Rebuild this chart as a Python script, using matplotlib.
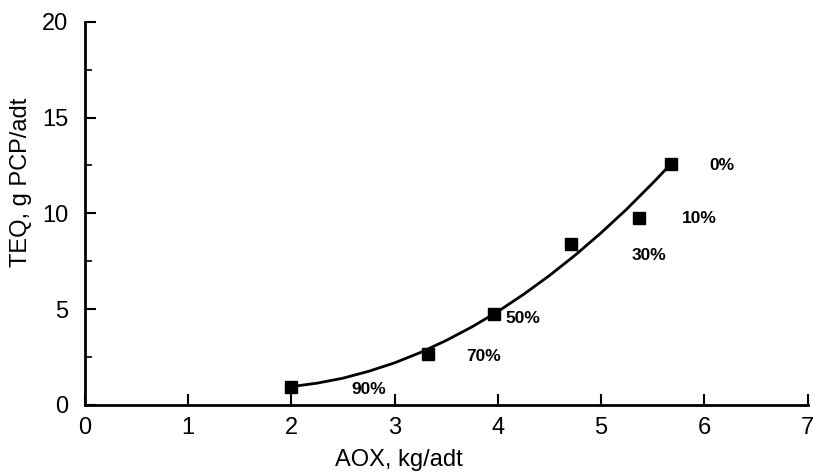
import matplotlib
matplotlib.use("Agg")
from matplotlib import pyplot as plt
from matplotlib.ticker import MultipleLocator

# measured points (AOX, TEQ) and their labels
aox = [2.0, 3.32, 3.96, 4.71, 5.37, 5.68]
teq = [0.95, 2.63, 4.74, 8.4, 9.74, 12.6]
pct_labels = ["90%", "70%", "50%", "30%", "10%", "0%"]
label_x = [2.75, 3.86, 4.24, 5.46, 5.95, 6.17]
label_y = [0.8, 2.5, 4.5, 7.8, 9.74, 12.5]

# fitted curve
curve_x = [2.0, 2.25, 2.5, 2.75, 3.0, 3.25, 3.5, 3.75, 4.0, 4.25,
           4.5, 4.75, 5.0, 5.25, 5.5, 5.68]
curve_y = [0.95, 1.13, 1.39, 1.75, 2.19, 2.73, 3.36, 4.07, 4.87, 5.77,
           6.75, 7.82, 8.98, 10.23, 11.58, 12.6]

plt.rcParams['font.family'] = ['Liberation Sans', 'DejaVu Sans']

fig = plt.figure(figsize=(8.15, 4.74), dpi=100)
ax = fig.add_axes([0.104, 0.146, 0.887, 0.808])

ax.plot(curve_x, curve_y, color='black', lw=2, zorder=2)
ax.plot(aox, teq, 's', color='black', markersize=8, zorder=3)
for lx, ly, txt in zip(label_x, label_y, pct_labels):
    ax.text(lx, ly, txt, fontsize=12.5, fontweight='bold', ha='center', va='center')

ax.set_xlim(0, 7)
ax.set_ylim(0, 20)
ax.xaxis.set_major_locator(MultipleLocator(1))
ax.yaxis.set_major_locator(MultipleLocator(5))
ax.yaxis.set_minor_locator(MultipleLocator(2.5))

for side in ['top', 'right']:
    ax.spines[side].set_visible(False)
for side in ['left', 'bottom']:
    ax.spines[side].set_linewidth(2)

ax.tick_params(axis='both', which='major', direction='in', length=8, width=1.5,
               labelsize=17)
ax.tick_params(axis='y', which='minor', direction='in', length=5, width=1.2)
ax.tick_params(axis='x', pad=9)
ax.tick_params(axis='y', pad=12)

# labels sit off-centre in the original
ax.set_xlabel("AOX, kg/adt", fontsize=17)
ax.set_ylabel("TEQ, g PCP/adt", fontsize=17)
ax.xaxis.set_label_coords(0.434, -0.115)
ax.yaxis.set_label_coords(-0.073, 0.58)

fig.savefig("out.png", dpi=100)
